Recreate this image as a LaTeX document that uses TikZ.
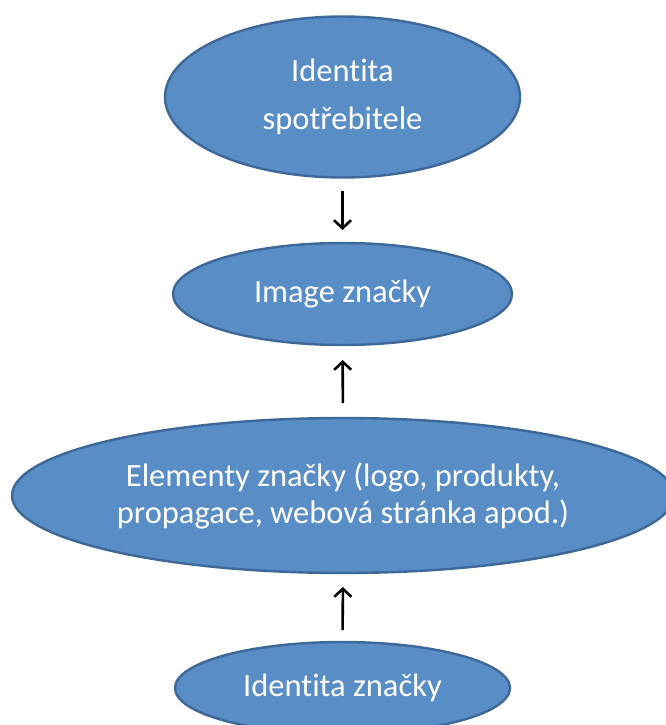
\documentclass[tikz,border=0pt]{standalone}
\usepackage{fontspec}
\setmainfont{Carlito}[Ligatures={NoCommon}]
\usetikzlibrary{shapes.geometric,arrows.meta}
\definecolor{ovalfill}{RGB}{89,141,198}
\definecolor{ovaledge}{RGB}{62,104,152}
\tikzset{
  oval/.style={ellipse, draw=ovaledge, fill=ovalfill, line width=2.4pt,
    inner sep=0pt, outer sep=0pt, text=white, align=center,
    font=\fontsize{32.5}{48}\selectfont},
  flow/.style={draw=black, line width=2.6pt,
    -{Straight Barb[length=8pt,width=17pt,line width=2.6pt]}}
}
\begin{document}
\begin{tikzpicture}[x=1pt,y=-1pt]
  \useasboundingbox (0,0) rectangle (665,725);
  \node[oval, minimum width=355pt, minimum height=161pt] (consumer) at (342.5,97)
    {Identita\\spotřebitele};
  \node[oval, minimum width=339pt, minimum height=102pt] (image) at (342.5,294)
    {Image značky};
  \node[oval, minimum width=662pt, minimum height=155pt,
        font=\fontsize{32.5}{37}\selectfont] (elements) at (343,495.5)
    {Elementy značky (logo, produkty,\\propagace, webová stránka apod.)};
  \node[oval, minimum width=335pt, minimum height=92pt] (brand) at (342.5,688)
    {Identita značky};
  \draw[flow, shorten <=13pt, shorten >=13pt] (consumer.south) -- (image.north);
  \draw[flow, shorten <=15pt, shorten >=15pt] (elements.north) -- (image.south);
  \draw[flow, shorten <=12pt, shorten >=14pt] (brand.north) -- (elements.south);
\end{tikzpicture}
\end{document}
